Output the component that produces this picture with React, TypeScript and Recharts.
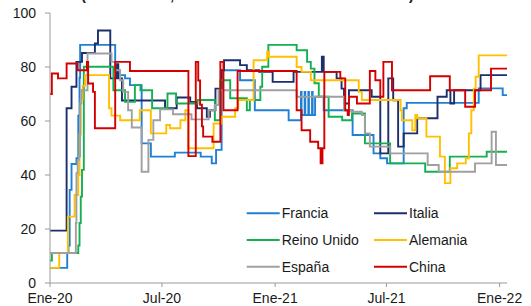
import React from "react";
import { LineChart, Line, XAxis, YAxis } from "recharts";

// [day since 2020-01-01, stringency index]
const francia: [number, number][] = [
  [0, 5.6], [28, 11.1], [30, 13.9], [32, 34.5], [35, 44.1], [43, 46.2], [46, 62], [48, 76], [49, 88.2],
  [106, 78.8], [113, 77], [122, 75.8], [130, 73.3], [149, 51.7], [164, 46.8], [203, 48.3], [245, 46.8],
  [263, 44.3], [270, 49.3], [279, 78.8], [309, 75.1], [333, 64], [388, 60.3], [408, 70.8], [409, 62.2],
  [414, 70.8], [415, 62.2], [420, 70.8], [421, 62.2], [426, 70.8], [427, 62.2], [431, 69], [445, 64],
  [492, 54.8], [526, 48], [537, 46.2], [548, 44.3], [575, 64.7], [580, 66.7], [697, 72.1], [736, 69.6],
  [743, 69.6],
];

const italia: [number, number][] = [
  [0, 19.4], [27, 64.7], [35, 72.7], [43, 81.9], [52, 85.2], [73, 88.7], [78, 93.5], [98, 75.8],
  [108, 81], [111, 75.8], [117, 67.6], [187, 64.7], [206, 68.7], [228, 67.1], [239, 64.7], [255, 61.6],
  [260, 64], [269, 72], [279, 78.8], [283, 82.5], [309, 80.7], [320, 78.8], [340, 78.2], [362, 74.5],
  [396, 78.2], [442, 83.8], [445, 78.2], [466, 75.8], [474, 72], [478, 66.5], [486, 71.4], [523, 69],
  [537, 48], [550, 75.8], [558, 67.7], [566, 50.5], [575, 55.4], [597, 61], [630, 69], [645, 71.4],
  [651, 66.5], [657, 71.4], [700, 77], [743, 77],
];

const reinoUnido: [number, number][] = [
  [0, 8.3], [3, 11.1], [46, 13.9], [48, 22.2], [50, 32], [52, 41.9], [55, 80.1], [103, 71.4],
  [122, 67.1], [138, 73.3], [147, 71.4], [166, 64.7], [191, 70.2], [205, 66.5], [240, 67.8],
  [268, 60.3], [277, 75.1], [293, 68.4], [320, 64], [325, 67.8], [342, 72.7], [345, 80.1], [355, 88.2],
  [401, 86.2], [418, 81.9], [424, 79.4], [430, 74], [437, 69], [453, 61.6], [475, 60.3], [491, 62.8],
  [512, 51.7], [553, 44.3], [610, 41.2], [650, 46.8], [710, 48.6], [743, 48.6],
];

const alemania: [number, number][] = [
  [0, 5.6], [15, 11.1], [29, 24.6], [40, 32.6], [46, 40], [48, 55], [50, 68], [53, 73], [57, 77],
  [96, 64.7], [100, 62], [114, 60.3], [146, 64], [164, 55.4], [189, 58.5], [195, 57.3], [212, 60.3],
  [220, 64], [225, 49.9], [266, 59.1], [279, 61.6], [301, 64.7], [306, 67.8], [331, 82.5], [353, 85.7],
  [356, 83.8], [401, 80], [409, 78.2], [424, 75.1], [502, 70.8], [507, 67.8], [570, 64], [572, 60.3],
  [589, 56.6], [594, 62.2], [597, 61], [612, 54.2], [634, 46.8], [642, 37], [651, 42.5], [662, 44.3],
  [676, 46.2], [681, 55.4], [685, 64], [689, 72], [692, 76.4], [697, 84.3], [743, 84.3],
];

const espana: [number, number][] = [
  [0, 11.1], [42, 22.2], [43, 40.7], [45, 45.6], [47, 46.8], [49, 66.5], [51, 71.4], [61, 85],
  [100, 81.9], [106, 78.8], [114, 75.1], [119, 70.8], [127, 64], [133, 57.6], [149, 41.2], [160, 53],
  [168, 60.3], [179, 64.3], [200, 62.5], [230, 60.6], [258, 64], [268, 65.9], [274, 71.4], [401, 69],
  [478, 64], [490, 63.4], [507, 62.2], [512, 55.4], [520, 50.5], [553, 48], [614, 43.7], [632, 41.2],
  [691, 44.3], [718, 56], [725, 43.7], [743, 43.7],
];

const china: [number, number][] = [
  [0, 70], [3, 77.6], [13, 75.8], [27, 81.3], [45, 78.8], [60, 81.9], [62, 73.9], [70, 70.8], [73, 57.3],
  [106, 81.9], [130, 78.5], [225, 47], [237, 81.9], [241, 75], [244, 66], [247, 58], [249, 54.2],
  [264, 52.3], [277, 81.9], [282, 64], [305, 78.5], [401, 64], [409, 56.6], [423, 52.3], [436, 49.9],
  [440, 44.3], [443, 49.9], [446, 78.2], [472, 75.8], [480, 64], [484, 62.2], [486, 69], [499, 66.5],
  [520, 78.5], [529, 75.1], [537, 69], [542, 81.9], [556, 71.4], [618, 76.6], [650, 71.4], [675, 65.3],
  [691, 71.4], [717, 79.4], [743, 79.4],
];

const xTickDays = [0, 182, 366, 547, 731];
const xTickLabels = ["Ene-20", "Jul-20", "Ene-21", "Jul-21", "Ene-22"];
const yTicks = [0, 20, 40, 60, 80, 100];

const series = [
  { name: "Francia", color: "#1F80D6", points: francia },
  { name: "Italia", color: "#1B2F6C", points: italia },
  { name: "Reino Unido", color: "#14B050", points: reinoUnido },
  { name: "Alemania", color: "#FFC000", points: alemania },
  { name: "España", color: "#A0A0A0", points: espana },
  { name: "China", color: "#D40000", points: china },
];

const FONT = '"Liberation Sans", Arial, sans-serif';
const AXIS = "#9A9A9A";

const fmtX = (d: number) => {
  const i = xTickDays.indexOf(d);
  return i >= 0 ? xTickLabels[i] : "";
};

export default function App() {
  return (
    <div style={{ position: "absolute", left: 0, top: 0, width: 531, height: 306, fontFamily: FONT }}>
      <LineChart width={531} height={306} margin={{ top: 13, right: 24, bottom: 0, left: 0 }}>
        <XAxis
          type="number"
          dataKey="d"
          domain={[0, 743]}
          ticks={xTickDays}
          tickFormatter={fmtX}
          allowDataOverflow
          height={23}
          tickSize={4}
          tickMargin={6}
          stroke={AXIS}
          tick={{ fill: "#1a1a1a", fontSize: 14, fontFamily: FONT }}
          interval={0}
        />
        <YAxis
          type="number"
          domain={[0, 100]}
          ticks={yTicks}
          width={50}
          tickSize={5}
          tickMargin={9}
          stroke={AXIS}
          tick={{ fill: "#1a1a1a", fontSize: 14, fontFamily: FONT }}
          interval={0}
        />
        {series.map((s) => (
          <Line
            key={s.name}
            name={s.name}
            data={s.points.map(([d, v]) => ({ d, v }))}
            dataKey="v"
            type="stepAfter"
            stroke={s.color}
            strokeWidth={1.9}
            dot={false}
            activeDot={false}
            isAnimationActive={false}
          />
        ))}
      </LineChart>
      <svg
        width={531}
        height={306}
        style={{ position: "absolute", left: 0, top: 0, pointerEvents: "none" }}
      >
        <text
          x={81}
          y={-0.4}
          textLength={333}
          lengthAdjust="spacingAndGlyphs"
          fontSize={16}
          fontWeight="bold"
          fontFamily={FONT}
          fill="#1a1a1a"
        >
          (Índice 0-100, 100 = restricciones más estrictas)
        </text>
        {series.map((s, i) => {
          const col = i % 2;
          const row = Math.floor(i / 2);
          const x0 = col === 0 ? 246.7 : 374;
          const y = 213.3 + row * 26.7;
          return (
            <g key={s.name}>
              <line x1={x0} x2={x0 + 33} y1={y} y2={y} stroke={s.color} strokeWidth={1.9} />
              <text
                x={x0 + 35}
                y={y}
                dy="0.35em"
                fontSize={14}
                fontFamily={FONT}
                fill="#1a1a1a"
              >
                {s.name}
              </text>
            </g>
          );
        })}
      </svg>
    </div>
  );
}
